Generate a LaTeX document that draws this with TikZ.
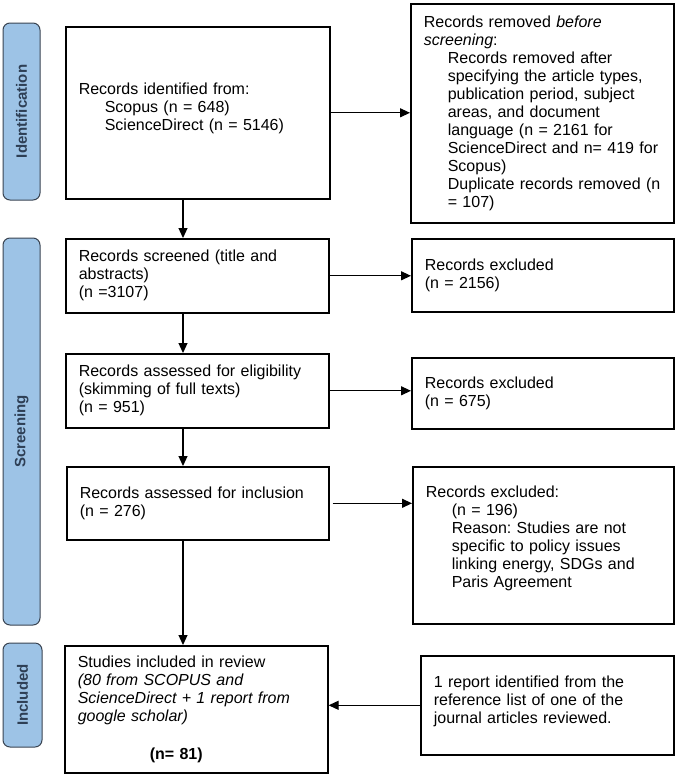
\documentclass[tikz,border=0pt]{standalone}
\usepackage{fontspec}
\setmainfont{Liberation Sans}
\usepackage[HTML]{xcolor}
\usepackage{tikz}
\usetikzlibrary{positioning, arrows, arrows.meta}
\frenchspacing

\definecolor{phasefill}{HTML}{9DC3E6}
\definecolor{phaseline}{HTML}{3A4452}
\definecolor{phasetext}{HTML}{2E3F55}

\begin{document}
\begin{tikzpicture}[x=1pt, y=-1pt,
  box/.style={draw, line width=1.6pt, anchor=north west, inner xsep=13pt, align=left, font={\fontsize{16}{18}\selectfont}},
  phase/.style={draw=phaseline, fill=phasefill, line width=1pt, rounded corners=7pt, rotate=90, text=phasetext, font={\fontsize{15}{18}\selectfont\bfseries}},
  arr/.style={-{Triangle[length=10pt, width=9pt]}, line width=1.2pt}]
\useasboundingbox (0,0) rectangle (685,774);

\node[phase, minimum width=177, minimum height=37] (idbar) at (21.5,111.5) {Identification};
\node[phase, minimum width=387, minimum height=37] (scbar) at (21.5,431.5) {Screening};
\node[phase, minimum width=104, minimum height=39] (inbar) at (22.5,695) {Included};

\node[box, minimum width=264, minimum height=172, text width=238] (ident) at (65,26)
  {Records identified from:\\ \hspace*{26pt}Scopus (n = 648)\\ \hspace*{26pt}ScienceDirect (n = 5146)\\[-5pt]\mbox{}};
\node[box, minimum width=263, minimum height=219, text width=237] (removed) at (410,3)
  {Records removed \emph{before}\\ \emph{screening}:\\
   \hspace*{24pt}Records removed after\\ \hspace*{24pt}specifying the article types,\\
   \hspace*{24pt}publication period, subject\\ \hspace*{24pt}areas, and document\\
   \hspace*{24pt}language (n = 2161 for\\ \hspace*{24pt}ScienceDirect and n= 419 for\\
   \hspace*{24pt}Scopus)\\ \hspace*{24pt}Duplicate records removed (n\\ \hspace*{24pt}= 107)};
\node[box, minimum width=263, minimum height=74, text width=237] (screened) at (65,238)
  {Records screened (title and\\ abstracts)\\ (n =3107)};
\node[box, minimum width=262, minimum height=73, text width=236] (excla) at (411,238)
  {Records excluded\\ (n = 2156)};
\node[box, minimum width=263, minimum height=74, text width=237] (elig) at (65,353)
  {Records assessed for eligibility\\ (skimming of full texts)\\ (n = 951)};
\node[box, minimum width=262, minimum height=71, text width=236] (exclb) at (411,357)
  {Records excluded\\ (n = 675)};
\node[box, minimum width=262, minimum height=73, text width=236] (assessed) at (66,466)
  {Records assessed for inclusion\\ (n = 276)};
\node[box, minimum width=261, minimum height=157, text width=235] (exclc) at (412,466)
  {Records excluded:\\ \hspace*{26pt}(n = 196)\\ \hspace*{26pt}Reason: Studies are not\\
   \hspace*{26pt}specific to policy issues\\ \hspace*{26pt}linking energy, SDGs and\\
   \hspace*{26pt}Paris Agreement\\ \mbox{}};
\node[box, minimum width=263, minimum height=127, text width=237] (studies) at (64,645)
  {Studies included in review\\ \emph{(80 from SCOPUS and}\\ \emph{ScienceDirect + 1 report from}\\
   \emph{google scholar)}\\[20pt] \hspace*{72pt}\textbf{(n= 81)}};
\node[box, minimum width=253, minimum height=99, text width=227] (report) at (420,655)
  {1 report identified from the\\ reference list of one of the\\ journal articles reviewed.\\[-7pt]\mbox{}};

\coordinate (spine) at (183,0);

\draw[arr] (ident.east) -- (ident.east -| removed.west);
\draw[arr] (screened.east) -- (screened.east -| excla.west);
\draw[arr] (elig.east) -- (elig.east -| exclb.west);
\draw[arr] ([xshift=3pt]assessed.east) -- (assessed.east -| exclc.west);
\draw[arr] (report.west) -- (report.west -| studies.east);

\draw[arr] (ident.south -| spine) -- (screened.north -| spine);
\draw[arr] (screened.south -| spine) -- (elig.north -| spine);
\draw[arr] (elig.south -| spine) -- (assessed.north -| spine);
\draw[arr] (assessed.south -| spine) -- (studies.north -| spine);
\end{tikzpicture}
\end{document}
